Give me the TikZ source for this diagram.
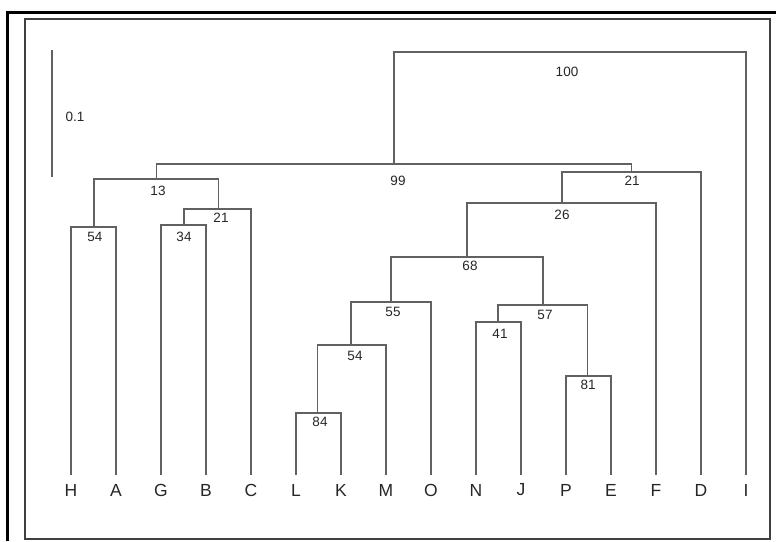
\documentclass[tikz,border=0pt]{standalone}
\usepackage{fontspec}
\setmainfont{Liberation Sans}
\begin{document}
\begin{tikzpicture}[x=1pt,y=-1pt,
  branch/.style={draw=black!62,line width=1.5pt},
  leaflab/.style={font=\fontsize{17.5}{18}\selectfont,text=black!85,inner sep=0pt},
  suplab/.style={font=\fontsize{13.5}{14}\selectfont,text=black!85,inner sep=0pt}]
\useasboundingbox (0,0) rectangle (776,541);
% frames
\draw[line width=3pt,black] (7,541) -- (7,12) -- (776,12);
\draw[line width=1.4pt,black!75] (25,19) rectangle (770,539);
% scale bar
\draw[branch] (52,50) -- (52,177);
\node[suplab] (scale) at (75,117) {0.1};
% leaves
\foreach \n/\i in {H/0,A/1,G/2,B/3,C/4,L/5,K/6,M/7,O/8,N/9,J/10,P/11,E/12,F/13,D/14,I/15}{
  \coordinate (t\n) at ({71+45*\i},475);
  \node[leaflab] (\n) at ({71+45*\i},490) {\n};
}
% internal nodes
\coordinate (nHA) at (94,227);
\coordinate (nGB) at (184,225);
\coordinate (nGBC) at (218.5,209);
\coordinate (nL) at (156.5,179);
\coordinate (nLK) at (317.5,413);
\coordinate (nLKM) at (351,345);
\coordinate (nLKMO) at (391,302);
\coordinate (nNJ) at (498,322);
\coordinate (nPE) at (587.5,376);
\coordinate (nNJPE) at (543,305);
\coordinate (n68) at (467,257);
\coordinate (n26) at (562,203);
\coordinate (n21r) at (631.5,172);
\coordinate (n99) at (394,164);
\coordinate (nroot) at (396,52);
% branches
\draw[branch] (tH) |- (nHA) -| (tA);
\draw[branch] (tG) |- (nGB) -| (tB);
\draw[branch] (nGB) |- (nGBC) -| (tC);
\draw[branch] (nHA) |- (nL) -| (nGBC);
\draw[branch] (tL) |- (nLK) -| (tK);
\draw[branch] (nLK) |- (nLKM) -| (tM);
\draw[branch] (nLKM) |- (nLKMO) -| (tO);
\draw[branch] (tN) |- (nNJ) -| (tJ);
\draw[branch] (tP) |- (nPE) -| (tE);
\draw[branch] (nNJ) |- (nNJPE) -| (nPE);
\draw[branch] (nLKMO) |- (n68) -| (nNJPE);
\draw[branch] (n68) |- (n26) -| (tF);
\draw[branch] (n26) |- (n21r) -| (tD);
\draw[branch] (nL) |- (n99) -| (n21r);
\draw[branch] (n99) |- (nroot) -| (tI);
% support values
\node[suplab] (s100) at (567,72) {100};
\node[suplab] (s99) at (398,181) {99};
\node[suplab] (s21r) at (632,181) {21};
\node[suplab] (s26) at (562,215) {26};
\node[suplab] (s68) at (470,266) {68};
\node[suplab] (s55) at (393,312) {55};
\node[suplab] (s54b) at (355,356) {54};
\node[suplab] (s84) at (320,422) {84};
\node[suplab] (s57) at (545,315) {57};
\node[suplab] (s41) at (500,334) {41};
\node[suplab] (s81) at (588,385) {81};
\node[suplab] (s13) at (158,191) {13};
\node[suplab] (s21) at (221,218) {21};
\node[suplab] (s54) at (95,237) {54};
\node[suplab] (s34) at (184,237) {34};
\end{tikzpicture}
\end{document}
